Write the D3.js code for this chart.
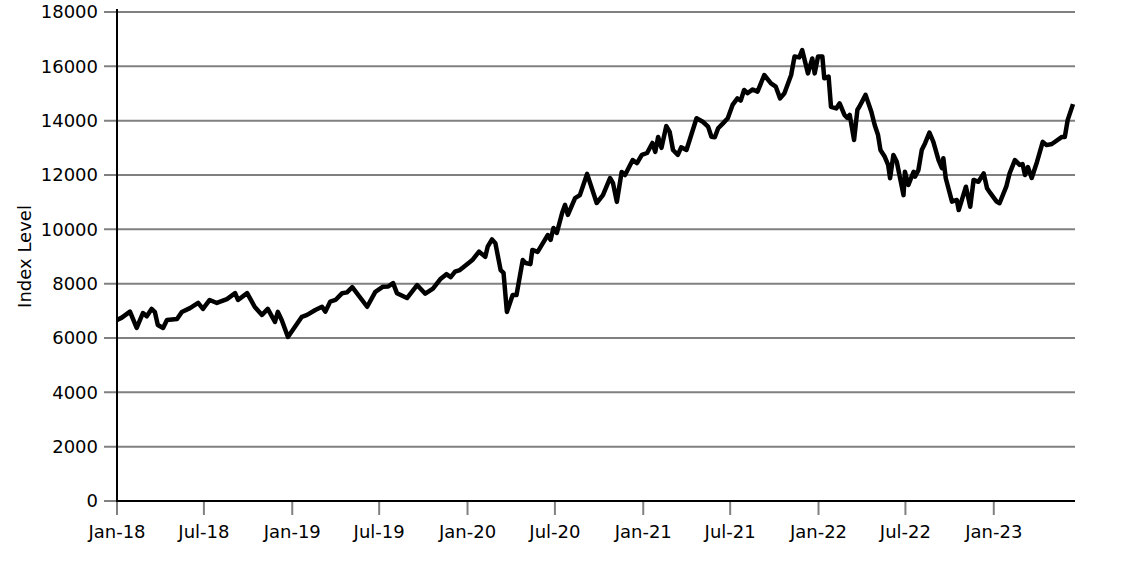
<!DOCTYPE html>
<html><head><meta charset="utf-8">
<script src="https://cdn.jsdelivr.net/npm/d3@7"></script>
<style>body{margin:0;background:#fff}svg{display:block}text{font-family:"DejaVu Sans",sans-serif}</style>
</head><body><svg id="c" width="1146" height="573"></svg>
<script>
const dates = [
"2018-01-01","2018-01-11","2018-01-28","2018-02-11","2018-02-24","2018-03-04","2018-03-14","2018-03-21","2018-03-27","2018-04-07","2018-04-15","2018-05-06","2018-05-16","2018-06-02","2018-06-19","2018-06-29","2018-07-13","2018-07-28","2018-08-18","2018-09-04","2018-09-10","2018-09-29","2018-10-15","2018-10-30","2018-11-11","2018-11-26","2018-12-02","2018-12-10","2018-12-23",
"2019-01-21","2019-02-01","2019-02-18","2019-03-04","2019-03-11","2019-03-21","2019-04-01","2019-04-15","2019-04-25","2019-05-06","2019-06-06","2019-06-23","2019-07-09","2019-07-20","2019-07-30","2019-08-07","2019-08-28","2019-09-18","2019-10-05","2019-10-21","2019-11-05","2019-11-18","2019-11-27","2019-12-06","2019-12-16",
"2020-01-04","2020-01-11","2020-01-25","2020-02-07","2020-02-12","2020-02-21","2020-02-28","2020-03-10","2020-03-16","2020-03-23","2020-04-04","2020-04-12","2020-04-25","2020-05-01","2020-05-11","2020-05-15","2020-05-26","2020-06-16","2020-06-22","2020-06-28","2020-07-05","2020-07-16","2020-07-22","2020-07-28","2020-08-12","2020-08-22","2020-09-06","2020-09-26","2020-10-09","2020-10-24","2020-10-30","2020-11-07","2020-11-17","2020-11-24","2020-12-10","2020-12-19","2020-12-29",
"2021-01-09","2021-01-20","2021-01-26","2021-02-01","2021-02-08","2021-02-18","2021-02-25","2021-03-04","2021-03-14","2021-03-21","2021-04-01","2021-04-22","2021-05-05","2021-05-16","2021-05-23","2021-05-30","2021-06-06","2021-06-16","2021-06-26","2021-07-06","2021-07-16","2021-07-23","2021-07-30","2021-08-06","2021-08-17","2021-08-27","2021-09-10","2021-09-24","2021-10-04","2021-10-13","2021-10-22","2021-11-05","2021-11-12","2021-11-22","2021-11-28","2021-12-10","2021-12-19","2021-12-24","2021-12-31",
"2022-01-09","2022-01-13","2022-01-22","2022-01-27","2022-02-07","2022-02-14","2022-02-24","2022-03-02","2022-03-07","2022-03-16","2022-03-23","2022-03-27","2022-04-09","2022-04-21","2022-04-28","2022-05-05","2022-05-10","2022-05-19","2022-05-26","2022-05-30","2022-06-06","2022-06-13","2022-06-27","2022-06-30","2022-07-07","2022-07-18","2022-07-21","2022-07-28","2022-08-04","2022-08-11","2022-08-20","2022-08-28","2022-09-08","2022-09-15","2022-09-18","2022-09-23","2022-10-06","2022-10-16","2022-10-20","2022-11-04","2022-11-13","2022-11-20","2022-11-30","2022-12-11","2022-12-18","2022-12-25",
"2023-01-07","2023-01-13","2023-01-27","2023-02-03","2023-02-14","2023-02-24","2023-03-02","2023-03-07","2023-03-13","2023-03-21","2023-04-01","2023-04-13","2023-04-21","2023-05-02","2023-05-23","2023-05-29","2023-06-04","2023-06-15"];
const values = [
6660,6750,6970,6370,6920,6800,7070,6950,6480,6370,6660,6700,6960,7100,7290,7070,7400,7290,7430,7650,7400,7650,7140,6850,7070,6590,6960,6660,6040,
6780,6850,7030,7150,6970,7340,7400,7650,7680,7870,7150,7700,7890,7900,8020,7650,7470,7950,7630,7820,8160,8350,8240,8440,8500,
8770,8870,9180,8990,9360,9630,9490,8500,8400,6960,7580,7580,8870,8760,8720,9240,9170,9790,9610,10050,9870,10600,10900,10530,11150,11260,12040,10970,11260,11890,11700,11010,12110,12000,12550,12440,12740,
12810,13180,12850,13400,13000,13800,13590,12920,12740,13020,12920,14090,13960,13780,13410,13390,13720,13900,14090,14580,14820,14740,15130,15010,15150,15070,15680,15370,15250,14820,15010,15680,16360,16330,16600,15740,16290,15740,16360,
16360,15560,15620,14510,14450,14640,14210,14100,14210,13290,14400,14510,14950,14330,13840,13470,12920,12670,12370,11880,12740,12490,11260,12120,11630,12120,11940,12180,12920,13170,13560,13230,12550,12250,12620,11880,11020,11080,10710,11570,10830,11820,11750,12060,11510,11330,
11020,10960,11570,12060,12550,12370,12400,12000,12290,11890,12480,13220,13100,13140,13400,13400,14030,14610];
const yTicks = [0,2000,4000,6000,8000,10000,12000,14000,16000,18000];
const xTickDates = ["2018-01-01","2018-07-01","2019-01-01","2019-07-01","2020-01-01","2020-07-01","2021-01-01","2021-07-01","2022-01-01","2022-07-01","2023-01-01"];
const xTickLabels = ["Jan-18","Jul-18","Jan-19","Jul-19","Jan-20","Jul-20","Jan-21","Jul-21","Jan-22","Jul-22","Jan-23"];
const yLabel = "Index Level";

const parse = d3.utcParse("%Y-%m-%d");
const n = Math.min(dates.length, values.length);
const data = d3.range(n).map(i=>({d:parse(dates[i]), v:values[i]}));
const svg = d3.select("#c");
const L = 117, R = 1075, T = 12, B = 501;
const x = d3.scaleUtc().domain([parse("2018-01-01"), parse("2023-06-15")]).range([L, 1073]);
const y = d3.scaleLinear().domain([0,18000]).range([B, T]);

const g = svg.append("g");
g.selectAll("line.grid").data(yTicks).join("line")
  .attr("x1", L-13).attr("x2", R).attr("y1", d=>y(d)).attr("y2", d=>y(d))
  .attr("stroke", "#808080").attr("stroke-width", 2);
g.selectAll("text.yl").data(yTicks).join("text")
  .attr("x", 98).attr("y", d=>y(d)).attr("dy","0.35em").attr("text-anchor","end")
  .attr("font-size", 18).attr("fill","#000").text(d=>d);

const xt = xTickDates.map(parse);
g.selectAll("line.xt").data(xt).join("line")
  .attr("x1", d=>x(d)).attr("x2", d=>x(d)).attr("y1", B).attr("y2", B+14)
  .attr("stroke", "#808080").attr("stroke-width", 2);
g.selectAll("text.xl").data(xt).join("text")
  .attr("x", d=>x(d)).attr("y", 538).attr("text-anchor","middle")
  .attr("font-size", 18).attr("fill","#000").text((d,i)=>xTickLabels[i]);

svg.append("line").attr("x1",L).attr("x2",L).attr("y1",9).attr("y2",B+1).attr("stroke","#000").attr("stroke-width",2);
svg.append("line").attr("x1",L-1).attr("x2",R).attr("y1",B).attr("y2",B).attr("stroke","#000").attr("stroke-width",2);

svg.append("text").attr("transform",`translate(31,${(T+B)/2}) rotate(-90)`)
  .attr("text-anchor","middle").attr("font-size",18).attr("fill","#000").text(yLabel);

svg.append("path").datum(data)
  .attr("d", d3.line().x(d=>x(d.d)).y(d=>y(d.v)))
  .attr("fill","none").attr("stroke","#000").attr("stroke-width",4.5).attr("stroke-linejoin","round");
</script></body></html>
